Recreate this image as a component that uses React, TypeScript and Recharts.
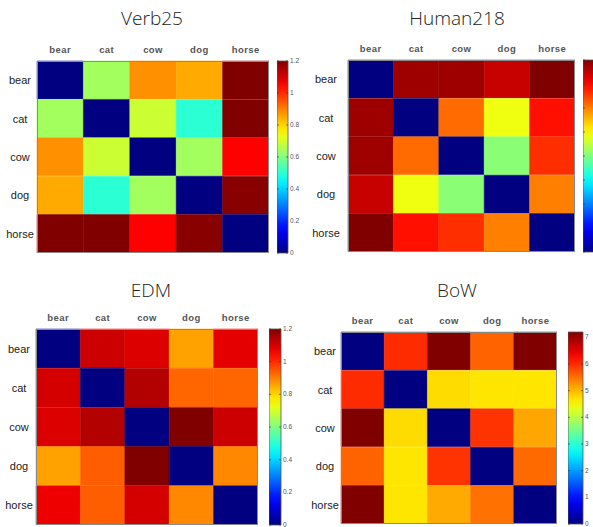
import { Bar, BarChart, Cell, XAxis, YAxis } from "recharts";

const animals = ["bear", "cat", "cow", "dog", "horse"];

// distance matrices, rows/cols in `animals` order
const verb25 = [
  [0, 0.64, 0.88, 0.85, 1.2],
  [0.64, 0, 0.69, 0.5, 1.2],
  [0.88, 0.69, 0, 0.64, 1.05],
  [0.85, 0.5, 0.64, 0, 1.19],
  [1.2, 1.2, 1.05, 1.19, 0],
];
const verb25Max = 1.2;
const verb25Ticks = [0, 0.2, 0.4, 0.6, 0.8, 1, 1.2];

const human218 = [
  [0, 0.97, 0.97, 0.93, 1.0],
  [0.97, 0, 0.77, 0.61, 0.86],
  [0.97, 0.77, 0, 0.51, 0.83],
  [0.93, 0.61, 0.51, 0, 0.75],
  [1.0, 0.86, 0.83, 0.75, 0],
];
const human218Max = 1;
const human218Ticks = [0, 0.125, 0.25, 0.375, 0.5, 0.625, 0.75, 0.875, 1];

const edm = [
  [0, 1.11, 1.09, 0.86, 1.08],
  [1.1, 0, 1.14, 0.93, 0.93],
  [1.09, 1.14, 0, 1.2, 1.11],
  [0.86, 0.94, 1.2, 0, 0.89],
  [1.07, 0.94, 1.1, 0.89, 0],
];
const edmMax = 1.2;
const edmTicks = [0, 0.2, 0.4, 0.6, 0.8, 1, 1.2];

const bow = [
  [0, 6.0, 7.2, 5.6, 7.2],
  [6.0, 0, 4.75, 4.68, 4.68],
  [7.2, 4.75, 0, 5.94, 5.13],
  [5.6, 4.68, 5.94, 0, 5.55],
  [7.2, 4.68, 5.1, 5.5, 0],
];
const bowMax = 7.2;
const bowTicks = [0, 1, 2, 3, 4, 5, 6, 7];

const clamp = (v: number) => Math.max(0, Math.min(1, v));

// matlab-style jet colormap
function jet(t: number) {
  const r = clamp(Math.min(4 * t - 1.5, -4 * t + 4.5));
  const g = clamp(Math.min(4 * t - 0.5, -4 * t + 3.5));
  const b = clamp(Math.min(4 * t + 0.5, -4 * t + 2.5));
  const h = (v: number) => Math.round(v * 255).toString(16).padStart(2, "0");
  return `#${h(r)}${h(g)}${h(b)}`;
}

const gradStops = Array.from({ length: 21 }, (_, i) => i / 20);
const font = "'Liberation Sans', Arial, sans-serif";

interface PanelProps {
  id: string;
  title: string;
  matrix: number[][];
  max: number;
  ticks: number[];
  showCbLabels?: boolean;
  x: number; // plot left
  y: number; // plot top
  w: number;
  h: number;
  cbX: number;
  cbW: number;
  titleX: number;
  titleY: number;
  labelOffset: number;
}

function Panel(p: PanelProps) {
  const yw = 40;
  const xh = 22;
  const pad = 5; // room for colorbar end labels
  const rows = animals.map((a) => {
    const row: Record<string, string | number> = { row: a };
    animals.forEach((_, j) => (row[`c${j}`] = 1));
    return row;
  });

  return (
    <>
      <div
        style={{
          position: "absolute",
          left: p.titleX - 80,
          top: p.titleY - 12,
          width: 160,
          textAlign: "center",
          fontFamily: "'Open Sans', sans-serif",
          fontWeight: 300,
          fontSize: 19,
          lineHeight: "24px",
          color: "#222",
        }}
      >
        {p.title}
      </div>
      <div style={{ position: "absolute", left: p.x - yw, top: p.y - xh }}>
        <BarChart
          width={yw + p.w}
          height={xh + p.h}
          data={rows}
          layout="vertical"
          barCategoryGap={0}
          barGap={0}
          margin={{ top: 0, right: 0, bottom: 0, left: 0 }}
        >
          <XAxis
            type="number"
            orientation="top"
            domain={[0, 5]}
            ticks={[0.5, 1.5, 2.5, 3.5, 4.5]}
            interval={0}
            height={xh}
            axisLine={false}
            tickLine={false}
            tick={(t: any) => (
              <text
                x={t.x}
                y={xh - 8}
                textAnchor="middle"
                fontFamily={font}
                fontWeight="bold"
                fontSize={9.5}
                letterSpacing={0.4}
                fill="#555"
              >
                {animals[Math.floor(t.payload.value)]}
              </text>
            )}
          />
          <YAxis
            type="category"
            dataKey="row"
            width={yw}
            axisLine={false}
            tickLine={false}
            tick={(t: any) => (
              <text
                x={yw - p.labelOffset}
                y={t.y}
                dy={4}
                textAnchor="middle"
                fontFamily={font}
                fontSize={11}
                fill="#222"
              >
                {t.payload.value}
              </text>
            )}
          />
          {animals.map((_, j) => (
            <Bar key={j} dataKey={`c${j}`} stackId="m" isAnimationActive={false}>
              {p.matrix.map((r, i) => (
                <Cell key={i} fill={jet(r[j] / p.max)} stroke={jet(r[j] / p.max)} strokeWidth={0.5} />
              ))}
            </Bar>
          ))}
        </BarChart>
        <div
          style={{
            position: "absolute",
            left: yw,
            top: xh,
            width: p.w,
            height: p.h,
            border: "1px solid #8a8a8a",
            boxSizing: "border-box",
            pointerEvents: "none",
          }}
        />
      </div>
      <div style={{ position: "absolute", left: p.cbX, top: p.y - pad }}>
        <BarChart
          width={p.cbW + 22}
          height={p.h + 2 * pad}
          data={[{ v: p.max }]}
          barCategoryGap={0}
          margin={{ top: pad, right: 0, bottom: pad, left: 0 }}
        >
          <defs>
            <linearGradient id={`jet-${p.id}`} x1="0" y1="1" x2="0" y2="0">
              {gradStops.map((s) => (
                <stop key={s} offset={s} stopColor={jet(s)} />
              ))}
            </linearGradient>
          </defs>
          <XAxis dataKey="v" hide />
          <YAxis
            orientation="right"
            type="number"
            domain={[0, p.max]}
            ticks={p.ticks}
            interval={0}
            width={22}
            axisLine={false}
            tickLine={false}
            tick={(t: any) => (
              <g>
                <line x1={0} x2={2} y1={t.y} y2={t.y} stroke="#333" strokeWidth={0.6} />
                <line x1={p.cbW - 2} x2={p.cbW} y1={t.y} y2={t.y} stroke="#333" strokeWidth={0.6} />
                {p.showCbLabels !== false && (
                  <text
                    x={p.cbW + 2}
                    y={t.y}
                    dy={2}
                    fontFamily={font}
                    fontSize={6.5}
                    fill="#555"
                  >
                    {t.payload.value}
                  </text>
                )}
              </g>
            )}
          />
          <Bar
            dataKey="v"
            fill={`url(#jet-${p.id})`}
            stroke="#555"
            strokeWidth={0.8}
            isAnimationActive={false}
          />
        </BarChart>
      </div>
    </>
  );
}

export default function App() {
  return (
    <div
      style={{
        position: "absolute",
        left: 0,
        top: 0,
        width: 593,
        height: 527,
        overflow: "hidden",
        background: "#fff",
      }}
    >
      <Panel id="verb" title="Verb25" matrix={verb25} max={verb25Max} ticks={verb25Ticks}
        x={37} y={61} w={232} h={192} cbX={277} cbW={11} titleX={152} titleY={18} labelOffset={17} />
      <Panel id="human" title="Human218" matrix={human218} max={human218Max} ticks={human218Ticks}
        showCbLabels={false}
        x={348} y={60} w={227} h={192} cbX={583} cbW={12} titleX={457} titleY={18} labelOffset={22} />
      <Panel id="edm" title="EDM" matrix={edm} max={edmMax} ticks={edmTicks}
        x={36} y={329} w={222} h={196} cbX={269} cbW={12} titleX={151} titleY={290} labelOffset={17} />
      <Panel id="bow" title="BoW" matrix={bow} max={bowMax} ticks={bowTicks}
        x={341} y={332} w={216} h={192} cbX={568} cbW={15} titleX={457} titleY={290} labelOffset={16} />
    </div>
  );
}
